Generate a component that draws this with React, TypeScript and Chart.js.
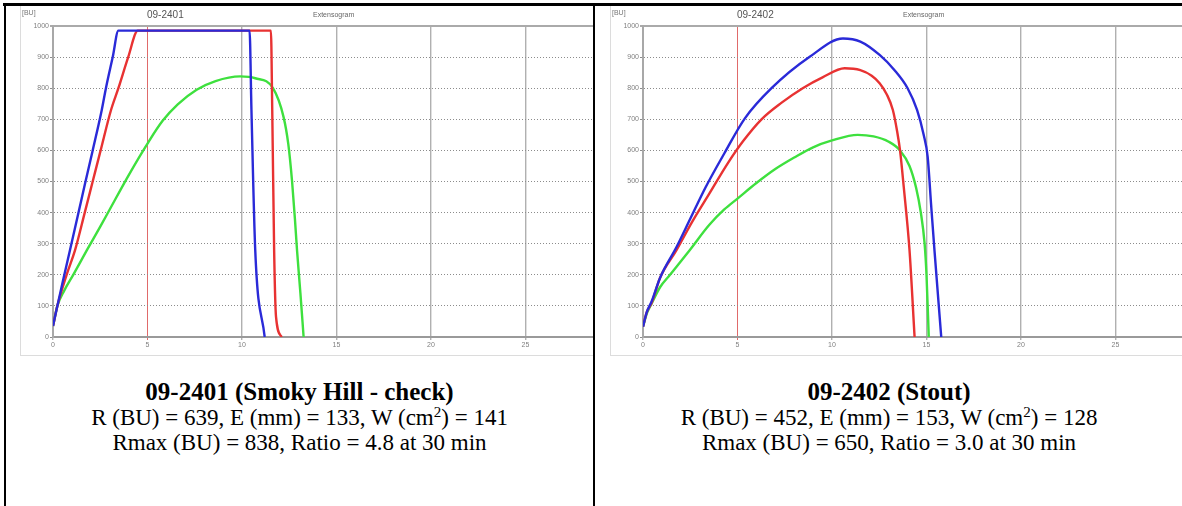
import React, { useEffect, useRef } from 'react';
import { Chart, registerables } from 'chart.js';

Chart.register(...registerables);

type Pt = [number, number];

// Axis ticks: extension (cm) and resistance (BU)
const xTicks = [0, 5, 10, 15, 20, 25, 30];
const yTicks = [0, 100, 200, 300, 400, 500, 600, 700, 800, 900, 1000];

// 09-2401 (Smoky Hill - check): extension, resistance pairs
const smokyBlue: Pt[] = [
  [0, 35], [0.23, 100], [0.6, 200], [0.9, 280], [1.35, 400], [1.72, 500], [2.1, 600],
  [2.58, 730], [2.8, 800], [3.16, 900], [3.46, 985], [10.4, 985], [10.5, 730],
  [10.7, 280], [11.2, 0],
];
const smokyRed: Pt[] = [
  [0, 35], [0.23, 100], [0.72, 200], [1.17, 280], [1.68, 400], [2.1, 500], [2.52, 600],
  [3.07, 730], [3.46, 800], [3.98, 900], [4.49, 985], [11.53, 985], [11.6, 730],
  [11.7, 280], [11.8, 65], [12.1, 0],
];
const smokyGreen: Pt[] = [
  [0, 35], [0.23, 100], [0.6, 150], [1.07, 200], [1.8, 280], [2.5, 355], [3, 410],
  [4, 520], [5, 622], [5.8, 695], [6.6, 748], [7.6, 795], [8.6, 823], [9.9, 838],
  [10.7, 832], [11.64, 800], [12.2, 707], [12.45, 620], [12.65, 500], [12.8, 380],
  [12.91, 280], [13.09, 141], [13.26, 0],
];

// 09-2402 (Stout)
const stoutBlue: Pt[] = [
  [0, 33], [0.2, 80], [0.46, 115], [0.9, 190], [1.78, 290], [2.5, 380], [3.3, 480],
  [4.3, 590], [5.39, 703], [6.8, 800], [8.82, 901], [10.58, 960], [11.5, 950],
  [12.52, 907], [13.31, 858], [14.0, 800], [14.5, 730], [14.85, 650], [15.06, 580],
  [15.25, 420], [15.42, 280], [15.78, 0],
];
const stoutRed: Pt[] = [
  [0, 33], [0.2, 80], [0.46, 110], [0.9, 190], [1.78, 280], [2.6, 370], [3.5, 460],
  [4.5, 560], [5.3, 630], [6.27, 700], [7.3, 752], [8.45, 800], [9.5, 835],
  [10.67, 864], [11.5, 858], [12.1, 840], [12.52, 816], [12.9, 780], [13.22, 730],
  [13.45, 660], [13.6, 600], [13.8, 480], [14.1, 280], [14.37, 0],
];
const stoutGreen: Pt[] = [
  [0, 33], [0.2, 75], [0.46, 108], [0.9, 160], [1.43, 200], [2.48, 280], [3.5, 360],
  [4.3, 410], [5, 445], [6, 495], [7, 540], [8, 577], [9, 610], [10, 632],
  [11.36, 650], [12.2, 645], [13.0, 628], [13.6, 600], [14.1, 550], [14.45, 480],
  [14.7, 400], [14.9, 300], [15.0, 200], [15.12, 0],
];

const BLUE = '#2a2ad8';
const RED = '#e83232';
const GREEN = '#3ee03e';

const serif = '"Liberation Serif", "Times New Roman", serif';
const sans = '"Liberation Sans", Arial, sans-serif';

type Series = { points: Pt[]; color: string };

function Extensogram({ series }: { series: Series[] }) {
  const ref = useRef<HTMLCanvasElement>(null);

  useEffect(() => {
    const canvas = ref.current;
    if (!canvas) return;
    const chart = new Chart(canvas, {
      type: 'scatter',
      data: {
        datasets: series.map((s) => ({
          data: s.points.map(([x, y]) => ({ x, y })),
          showLine: true,
          borderColor: s.color,
          backgroundColor: s.color,
          borderWidth: 2.4,
          pointRadius: 0,
          cubicInterpolationMode: 'monotone' as const,
          fill: false,
        })),
      },
      options: {
        animation: false,
        responsive: false,
        events: [],
        layout: { padding: { top: 20, right: 40, bottom: 0, left: 0 } },
        plugins: { legend: { display: false }, tooltip: { enabled: false }, title: { display: false } },
        scales: {
          x: {
            type: 'linear',
            min: xTicks[0],
            max: xTicks[xTicks.length - 1],
            afterBuildTicks: (scale: any) => {
              scale.ticks = xTicks.map((v) => ({ value: v }));
            },
            afterFit: (scale: any) => {
              scale.height = 19;
            },
            ticks: {
              font: { family: sans, size: 7 },
              color: '#808080',
              padding: 1,
              maxRotation: 0,
              autoSkip: false,
              callback: (v: any) => String(v),
            },
            grid: {
              color: (ctx: any) => (ctx.tick && ctx.tick.value === 5 ? '#e06a6a' : '#b0b0b0'),
              lineWidth: (ctx: any) => (ctx.tick && ctx.tick.value === 5 ? 1 : 1.4),
              tickLength: 3,
            },
            border: { color: '#9a9a9a', width: 2 },
          },
          y: {
            type: 'linear',
            min: yTicks[0],
            max: yTicks[yTicks.length - 1],
            afterBuildTicks: (scale: any) => {
              scale.ticks = yTicks.map((v) => ({ value: v }));
            },
            afterFit: (scale: any) => {
              scale.width = 33;
            },
            ticks: {
              font: { family: sans, size: 7 },
              color: '#808080',
              padding: 1,
              autoSkip: false,
              callback: (v: any) => String(v),
            },
            grid: {
              color: (ctx: any) => (ctx.tick && ctx.tick.value === 1000 ? '#aaaaaa' : '#8c8c8c'),
              lineWidth: (ctx: any) => (ctx.tick && ctx.tick.value === 1000 ? 2 : 1),
              tickLength: 3,
            },
            border: {
              color: '#a8a8a8',
              width: 2,
              dash: (ctx: any) => (ctx.tick && ctx.tick.value === 1000 ? [] : [1, 2]),
            },
          },
        },
      },
    } as any);
    return () => chart.destroy();
  }, []);

  return (
    <canvas
      ref={ref}
      width={640}
      height={350}
      style={{ position: 'absolute', left: 0, top: 0, display: 'block', filter: 'blur(0.4px)' }}
    />
  );
}

type PanelProps = {
  left: number;
  width: number;
  sample: string;
  title: string;
  r: number;
  e: number;
  w: number;
  rmax: number;
  ratio: string;
  series: Series[];
};

function Panel({ left, width, sample, title, r, e, w, rmax, ratio, series }: PanelProps) {
  const picLeft = left + 14;
  return (
    <>
      {/* chart picture */}
      <div
        style={{
          position: 'absolute',
          left: picLeft,
          top: 6,
          width: left + width - picLeft,
          height: 350,
          overflow: 'hidden',
          background: '#fff',
        }}
      >
        <Extensogram series={series} />
        <div style={{ position: 'absolute', left: 0, top: 0, width: 1, height: 350, background: '#dcdcdc' }} />
        <div style={{ position: 'absolute', left: 0, top: 349, width: 700, height: 1, background: '#dcdcdc' }} />
        <div style={{ position: 'absolute', left: 2, top: 3, fontFamily: sans, fontSize: 7, color: '#777', lineHeight: '7px' }}>
          [BU]
        </div>
        <div style={{ position: 'absolute', left: 127, top: 4, fontFamily: sans, fontSize: 10, color: '#555', lineHeight: '10px' }}>
          {sample}
        </div>
        <div style={{ position: 'absolute', left: 293, top: 5, fontFamily: sans, fontSize: 7, color: '#666', lineHeight: '7px' }}>
          Extensogram
        </div>
      </div>
      {/* caption */}
      <div
        style={{
          position: 'absolute',
          left,
          width,
          top: 378,
          textAlign: 'center',
          fontFamily: serif,
          color: '#000',
        }}
      >
        <div style={{ fontSize: 25, fontWeight: 'bold', lineHeight: '27px' }}>{title}</div>
        <div style={{ fontSize: 23, lineHeight: '25px' }}>
          R (BU) = {r}, E (mm) = {e}, W (cm
          <span style={{ fontSize: 15, position: 'relative', top: -8, lineHeight: 0 }}>2</span>) = {w}
        </div>
        <div style={{ fontSize: 23, lineHeight: '25px' }}>
          Rmax (BU) = {rmax}, Ratio = {ratio} at 30 min
        </div>
      </div>
    </>
  );
}

export default function App() {
  return (
    <div
      style={{
        position: 'absolute',
        left: 0,
        top: 0,
        width: 1182,
        height: 506,
        overflow: 'hidden',
        background: '#fff',
      }}
    >
      <Panel
        left={6}
        width={587}
        sample="09-2401"
        title="09-2401 (Smoky Hill - check)"
        r={639}
        e={133}
        w={141}
        rmax={838}
        ratio="4.8"
        series={[
          { points: smokyBlue, color: BLUE },
          { points: smokyRed, color: RED },
          { points: smokyGreen, color: GREEN },
        ]}
      />
      <Panel
        left={596}
        width={586}
        sample="09-2402"
        title="09-2402 (Stout)"
        r={452}
        e={153}
        w={128}
        rmax={650}
        ratio="3.0"
        series={[
          { points: stoutBlue, color: BLUE },
          { points: stoutRed, color: RED },
          { points: stoutGreen, color: GREEN },
        ]}
      />
      {/* table rules */}
      <div style={{ position: 'absolute', left: 3, top: 3, width: 1182, height: 3, background: '#000' }} />
      <div style={{ position: 'absolute', left: 4, top: 3, width: 2, height: 506, background: '#000' }} />
      <div style={{ position: 'absolute', left: 593, top: 3, width: 2, height: 506, background: '#000' }} />
    </div>
  );
}
